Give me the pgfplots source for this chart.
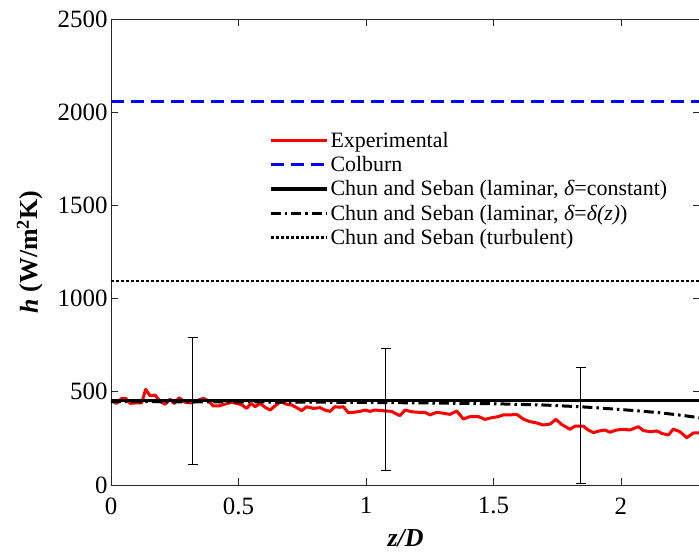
\documentclass[border=0pt]{standalone}
\usepackage{fontspec}
\setmainfont{Liberation Serif}
\usepackage{pgfplots}
\pgfplotsset{compat=1.18}
\begin{document}
\begin{tikzpicture}
\begin{axis}[
  scale only axis,
  width=589bp, height=466bp,
  xmin=0, xmax=2.31, ymin=0, ymax=2500,
  xtick={0,0.5,1,1.5,2},
  ytick={0,500,1000,1500,2000,2500},
  /pgf/number format/assume math mode=true,
  /pgf/number format/1000 sep={},
  tick label style={font=\fontsize{25}{28}\selectfont},
  xticklabel style={yshift=-9bp},
  tick align=inside,
  major tick length=7bp,
  axis line style={line width=0.9bp, black!85},
  tick style={line width=0.9bp, black!85},
  xlabel={\textbf{\textit{z/D}}},
  ylabel={\textbf{\textit{h} (W/m\textsuperscript{2}K)}},
  label style={font=\fontsize{26}{28}\selectfont},
  xlabel style={at={(axis description cs:0.5,0)}, anchor=center, yshift=-53bp},
  ylabel style={at={(axis description cs:-0.1375,0.5)}, anchor=center},
  legend style={draw=none, fill=none, at={(0.268,0.762)}, anchor=north west,
    font=\fontsize{22}{24}\selectfont, inner sep=0pt, row sep=3.5bp,
    cells={anchor=west}},
  legend image code/.code={\draw[#1] (0bp,0bp) -- (56bp,0bp);},
  clip=true,
]
\coordinate (bl) at (rel axis cs:0,0);
\coordinate (tr) at (rel axis cs:1,1);
\addplot[red, line width=3bp, line join=round] coordinates {
(0,452)(0.022,438)(0.042,465)(0.058,465)(0.075,438)(0.094,440)(0.12,440)(0.136,513)(0.153,479)(0.173,482)
(0.192,450)(0.212,433)(0.231,460)(0.248,438)(0.267,468)(0.29,444)(0.314,440)(0.336,452)(0.362,465)(0.382,452)
(0.401,424)(0.421,424)(0.473,444)(0.512,431)(0.532,411)(0.55,438)(0.565,420)(0.584,438)(0.604,417)(0.624,402)
(0.643,424)(0.665,447)(0.689,433)(0.709,429)(0.728,415)(0.748,399)(0.767,420)(0.793,411)(0.82,415)(0.839,402)
(0.859,395)(0.878,420)(0.898,417)(0.911,420)(0.931,388)(0.957,391)(0.976,395)(0.996,402)(1.016,395)(1.035,402)
(1.061,399)(1.081,397)(1.1,395)(1.114,385)(1.133,372)(1.153,402)(1.179,393)(1.205,390)(1.231,390)(1.251,376)
(1.277,390)(1.304,385)(1.329,379)(1.356,397)(1.382,354)(1.408,367)(1.441,367)(1.467,352)(1.493,361)(1.519,367)
(1.539,376)(1.565,376)(1.591,379)(1.617,354)(1.643,340)(1.669,333)(1.695,322)(1.722,327)(1.745,352)(1.767,325)
(1.8,299)(1.82,316)(1.852,316)(1.872,295)(1.892,281)(1.915,290)(1.937,295)(1.957,283)(1.983,295)(2.009,299)
(2.035,295)(2.068,313)(2.088,292)(2.114,286)(2.14,290)(2.16,277)(2.186,268)(2.205,300)(2.231,286)(2.258,254)
(2.284,279)(2.31,279)
};
\addlegendentry{Experimental}
\addplot[blue, line width=3bp, dash pattern=on 13bp off 7bp] coordinates {(0,2060)(2.31,2060)};
\addlegendentry{Colburn}
\addplot[black, line width=3.5bp] coordinates {(0,452)(2.31,452)};
\addlegendentry{Chun and Seban (laminar, \textit{δ}=constant)}
\addplot[black, line width=3bp, dash pattern=on 10bp off 4bp on 2.5bp off 4bp] coordinates {
(0,447)(0.5,446)(1.0,443)(1.25,440)(1.5,436)(1.7,429)(1.85,419)(2.0,405)(2.15,388)(2.25,372)(2.31,360)};
\addlegendentry{Chun and Seban (laminar, \textit{δ}=\textit{δ(z)})}
\addplot[black, line width=2.5bp, dash pattern=on 3bp off 2bp] coordinates {(0,1095)(2.31,1095)};
\addlegendentry{Chun and Seban (turbulent)}
\addplot[forget plot, black, line width=1bp, mark=-, mark size=5bp, mark options={solid}] coordinates {(0.32,112) (0.32,792)};
\addplot[forget plot, black, line width=1bp, mark=-, mark size=5bp, mark options={solid}] coordinates {(1.078,76) (1.078,730)};
\addplot[forget plot, black, line width=1bp, mark=-, mark size=5bp, mark options={solid}] coordinates {(1.842,8) (1.842,628)};
\end{axis}
\pgfresetboundingbox
\useasboundingbox ([xshift=-111bp,yshift=-67bp]bl) rectangle ([xshift=-1bp,yshift=19bp]tr);
\end{tikzpicture}
\end{document}
